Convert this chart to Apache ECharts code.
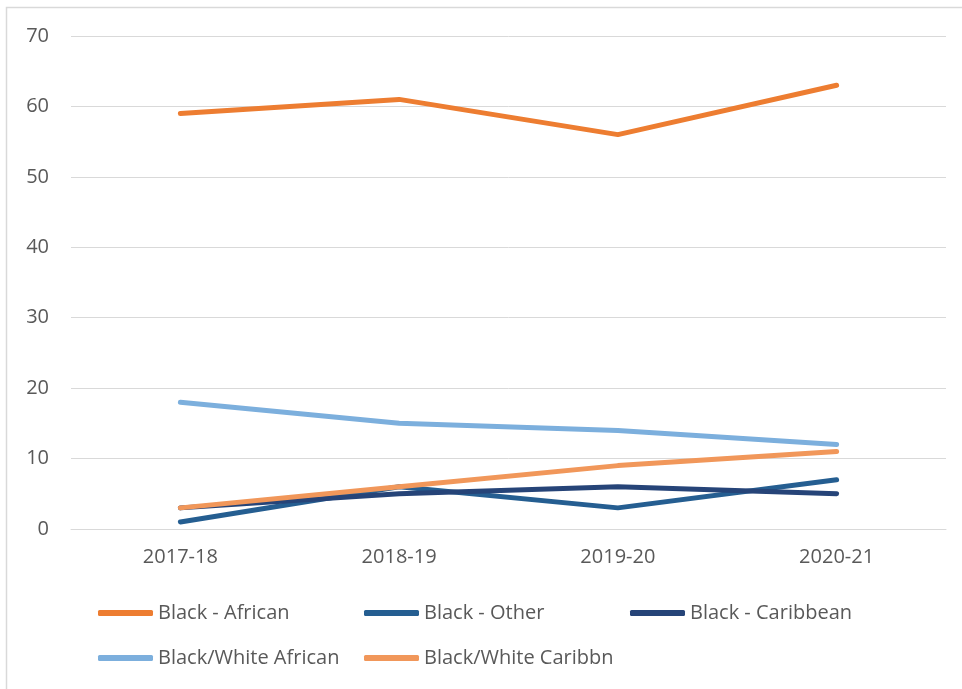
<!DOCTYPE html>
<html>
<head>
<meta charset="utf-8">
<script src="https://cdn.jsdelivr.net/npm/echarts@6/dist/echarts.min.js"></script>
<style>
html,body{margin:0;padding:0;background:#fff;}
#chart{width:962px;height:689px;}
</style>
</head>
<body>
<div id="chart"></div>
<script>
var categories = ['2017-18', '2018-19', '2019-20', '2020-21'];
var blackAfrican = [59, 61, 56, 63];
var blackOther = [1, 6, 3, 7];
var blackCaribbean = [3, 5, 6, 5];
var bwAfrican = [18, 15, 14, 12];
var bwCaribbean = [3, 6, 9, 11];
var yTicks = [0, 10, 20, 30, 40, 50, 60, 70];

var seriesDefs = [
  {name: 'Black - African', data: blackAfrican, color: '#ED7D31'},
  {name: 'Black - Other', data: blackOther, color: '#255E91'},
  {name: 'Black - Caribbean', data: blackCaribbean, color: '#264478'},
  {name: 'Black/White African', data: bwAfrican, color: '#7CAFDD'},
  {name: 'Black/White Caribbn', data: bwCaribbean, color: '#F1975A'}
];

var chart = echarts.init(document.getElementById('chart'), null, {renderer: 'canvas'});
var font = '"Open Sans", sans-serif';
chart.setOption({
  animation: false,
  backgroundColor: '#ffffff',
  graphic: [{
    type: 'rect',
    shape: {x: 6.5, y: 7.5, width: 1000, height: 800},
    style: {fill: 'none', stroke: '#d9d9d9', lineWidth: 1.5},
    silent: true
  }],
  grid: {left: 71, right: 16, top: 36, bottom: 160, containLabel: false},
  xAxis: {
    type: 'category',
    data: categories,
    boundaryGap: true,
    axisLine: {show: true, lineStyle: {color: '#d9d9d9', width: 1}},
    axisTick: {show: false},
    axisLabel: {color: '#595959', fontFamily: font, fontSize: 20, margin: 18}
  },
  yAxis: {
    type: 'value',
    min: yTicks[0],
    max: yTicks[yTicks.length - 1],
    interval: 10,
    axisLine: {show: false},
    axisTick: {show: false},
    splitLine: {lineStyle: {color: '#d9d9d9', width: 1}},
    axisLabel: {color: '#595959', fontFamily: font, fontSize: 20, margin: 22}
  },
  legend: {
    left: 98,
    top: 602,
    padding: 0,
    width: 820,
    itemWidth: 55,
    itemHeight: 6,
    itemGap: 23,
    icon: 'roundRect',
    textStyle: {color: '#595959', fontFamily: font, fontSize: 20, lineHeight: 22, width: 183, overflow: 'none'},
    data: seriesDefs.map(function (s) { return s.name; })
  },
  series: seriesDefs.map(function (s) {
    return {
      name: s.name,
      type: 'line',
      data: s.data,
      symbol: 'none',
      smooth: false,
      color: s.color,
      lineStyle: {color: s.color, width: 5, cap: 'round', join: 'round'},
      itemStyle: {color: s.color}
    };
  })
});
</script>
</body>
</html>
